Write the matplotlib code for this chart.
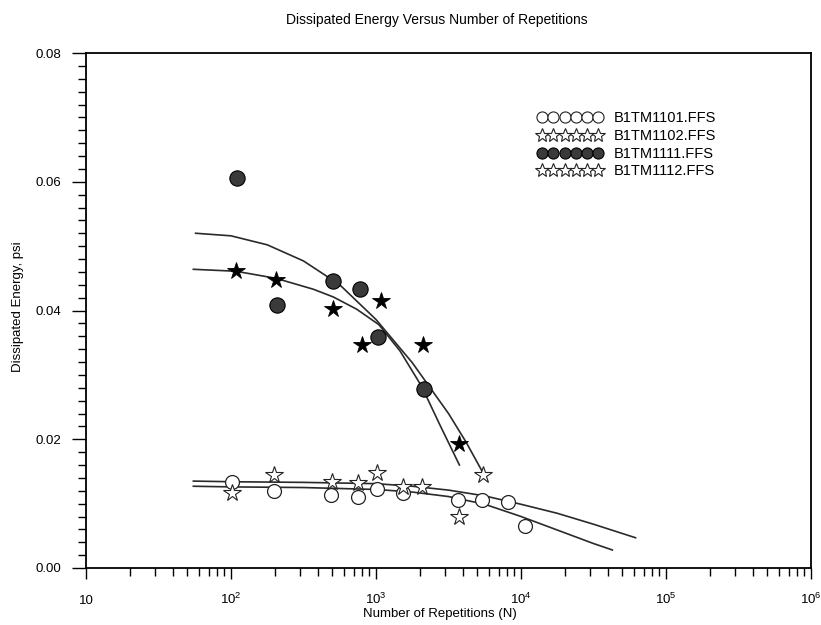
import matplotlib
matplotlib.use("Agg")
import numpy as np
import matplotlib.pyplot as plt
from matplotlib.lines import Line2D
from matplotlib.ticker import LogLocator, MultipleLocator, NullFormatter

plt.rcParams['font.family'] = ['Liberation Sans', 'DejaVu Sans']
plt.rcParams['mathtext.fontset'] = 'custom'
plt.rcParams['mathtext.rm'] = 'Liberation Sans'
plt.rcParams['mathtext.it'] = 'Liberation Sans:italic'

# data
n_1101 = [101, 198, 487, 755, 1010, 1541, 3700, 5360, 8190, 10660]
e_1101 = [0.0133, 0.0119, 0.0113, 0.0111, 0.0122, 0.0117, 0.0106, 0.0106, 0.0103, 0.0065]

n_1102 = [101, 198, 495, 755, 1020, 1541, 2066, 3760, 5445]
e_1102 = [0.0116, 0.0144, 0.0134, 0.0132, 0.0147, 0.0126, 0.0126, 0.0080, 0.0144]

n_1111 = [110, 207, 507, 776, 1038, 2143]
e_1111 = [0.0606, 0.0409, 0.0446, 0.0434, 0.0359, 0.0278]

n_1112 = [108, 204, 508, 796, 1077, 2118, 3760]
e_1112 = [0.0462, 0.0448, 0.0402, 0.0346, 0.0414, 0.0346, 0.0193]

# trend curves as drawn on the chart
fit_a_n = [57, 100, 178, 316, 562, 1000, 1778, 3162, 4169, 5495]
fit_a_e = [0.0520, 0.0516, 0.0502, 0.0477, 0.0440, 0.0386, 0.0319, 0.0240, 0.0196, 0.0147]
fit_b_n = [55, 108, 204, 370, 508, 736, 1047, 1466, 2066, 2762, 3760]
fit_b_e = [0.0464, 0.0461, 0.0450, 0.0433, 0.0421, 0.0402, 0.0378, 0.0337, 0.0282, 0.0222, 0.0160]
fit_c_n = [55, 100, 316, 1000, 1778, 3162, 5623, 10000, 17783, 31623, 61660]
fit_c_e = [0.0135, 0.0134, 0.0133, 0.0131, 0.0127, 0.0121, 0.0112, 0.0099, 0.0085, 0.0068, 0.0047]
fit_d_n = [55, 100, 316, 1000, 1778, 3162, 5623, 10000, 17783, 31623, 42660]
fit_d_e = [0.0127, 0.0126, 0.0125, 0.0122, 0.0118, 0.0111, 0.0099, 0.0080, 0.0059, 0.0038, 0.0028]

labels = ['B1TM1101.FFS', 'B1TM1102.FFS', 'B1TM1111.FFS', 'B1TM1112.FFS']
xtick_vals = [10, 1e2, 1e3, 1e4, 1e5, 1e6]
xtick_labels = ['10', r'$10^{2}$', r'$10^{3}$', r'$10^{4}$', r'$10^{5}$', r'$10^{6}$']

W, H = 821, 625
fig = plt.figure(figsize=(W / 100, H / 100), dpi=100)
ax = fig.add_axes([86 / W, 1 - 568 / H, (811 - 86) / W, (568 - 53) / H])

line_col = '#2a2a2a'
for fn, fe in [(fit_a_n, fit_a_e), (fit_b_n, fit_b_e), (fit_c_n, fit_c_e), (fit_d_n, fit_d_e)]:
    ax.plot(fn, fe, color=line_col, lw=1.2, zorder=2)

ax.plot(n_1101, e_1101, ls='none', marker='o', ms=10, mfc='white', mec='#222222', mew=0.9, zorder=3)
ax.plot(n_1102, e_1102, ls='none', marker='*', ms=13, mfc='white', mec='#222222', mew=0.8, zorder=3)
ax.plot(n_1111, e_1111, ls='none', marker='o', ms=11, mfc='#3a3a3a', mec='black', mew=0.8, zorder=3)
ax.plot(n_1112, e_1112, ls='none', marker='*', ms=13, mfc='black', mec='black', mew=0.6, zorder=3)

ax.set_xscale('log')
ax.set_xlim(10, 1e6)
ax.set_ylim(0, 0.08)

ax.set_xticks(xtick_vals)
ax.set_xticklabels(xtick_labels, fontsize=9.5)
for lbl in ax.get_xticklabels():
    lbl.set_verticalalignment('baseline')
ax.xaxis.set_minor_locator(LogLocator(base=10, subs=np.arange(2, 10)))
ax.xaxis.set_minor_formatter(NullFormatter())
ax.set_yticks([0, 0.02, 0.04, 0.06, 0.08])
ax.set_yticklabels(['0.00', '0.02', '0.04', '0.06', '0.08'], fontsize=9.5)
ax.yaxis.set_minor_locator(MultipleLocator(0.002))

ax.tick_params(axis='x', which='major', direction='out', length=8, width=1, pad=18)
ax.tick_params(axis='x', which='minor', direction='out', length=6, width=1)
ax.tick_params(axis='y', which='major', direction='out', length=10, width=1, pad=8)
ax.tick_params(axis='y', which='minor', direction='out', length=6, width=1)
for s in ax.spines.values():
    s.set_linewidth(1.3)

fig.text(437 / W, 1 - 20 / H, 'Dissipated Energy Versus Number of Repetitions',
         ha='center', va='center', fontsize=10)
fig.text(440 / W, 1 - 614 / H, 'Number of Repetitions (N)', ha='center', va='center', fontsize=9.5)
fig.text(18 / W, 1 - 307 / H, 'Dissipated Energy, psi', ha='center', va='center',
         rotation=90, fontsize=9.5)

handles = [
    Line2D([], [], ls='none', marker='o', ms=8, mfc='white', mec='#222222', mew=0.8),
    Line2D([], [], ls='none', marker='*', ms=10, mfc='white', mec='#222222', mew=0.8),
    Line2D([], [], ls='none', marker='o', ms=8, mfc='#3a3a3a', mec='black', mew=0.8),
    Line2D([], [], ls='none', marker='*', ms=10, mfc='white', mec='#222222', mew=0.8),
]
ax.legend(handles, labels, numpoints=6, handlelength=4.4, handletextpad=0.8,
          labelspacing=0.25, frameon=False, loc='upper left',
          bbox_to_anchor=(538 / W, 1 - 111.5 / H), bbox_transform=fig.transFigure,
          borderpad=0, borderaxespad=0, fontsize=10.5)

fig.savefig('out.png', dpi=100)
